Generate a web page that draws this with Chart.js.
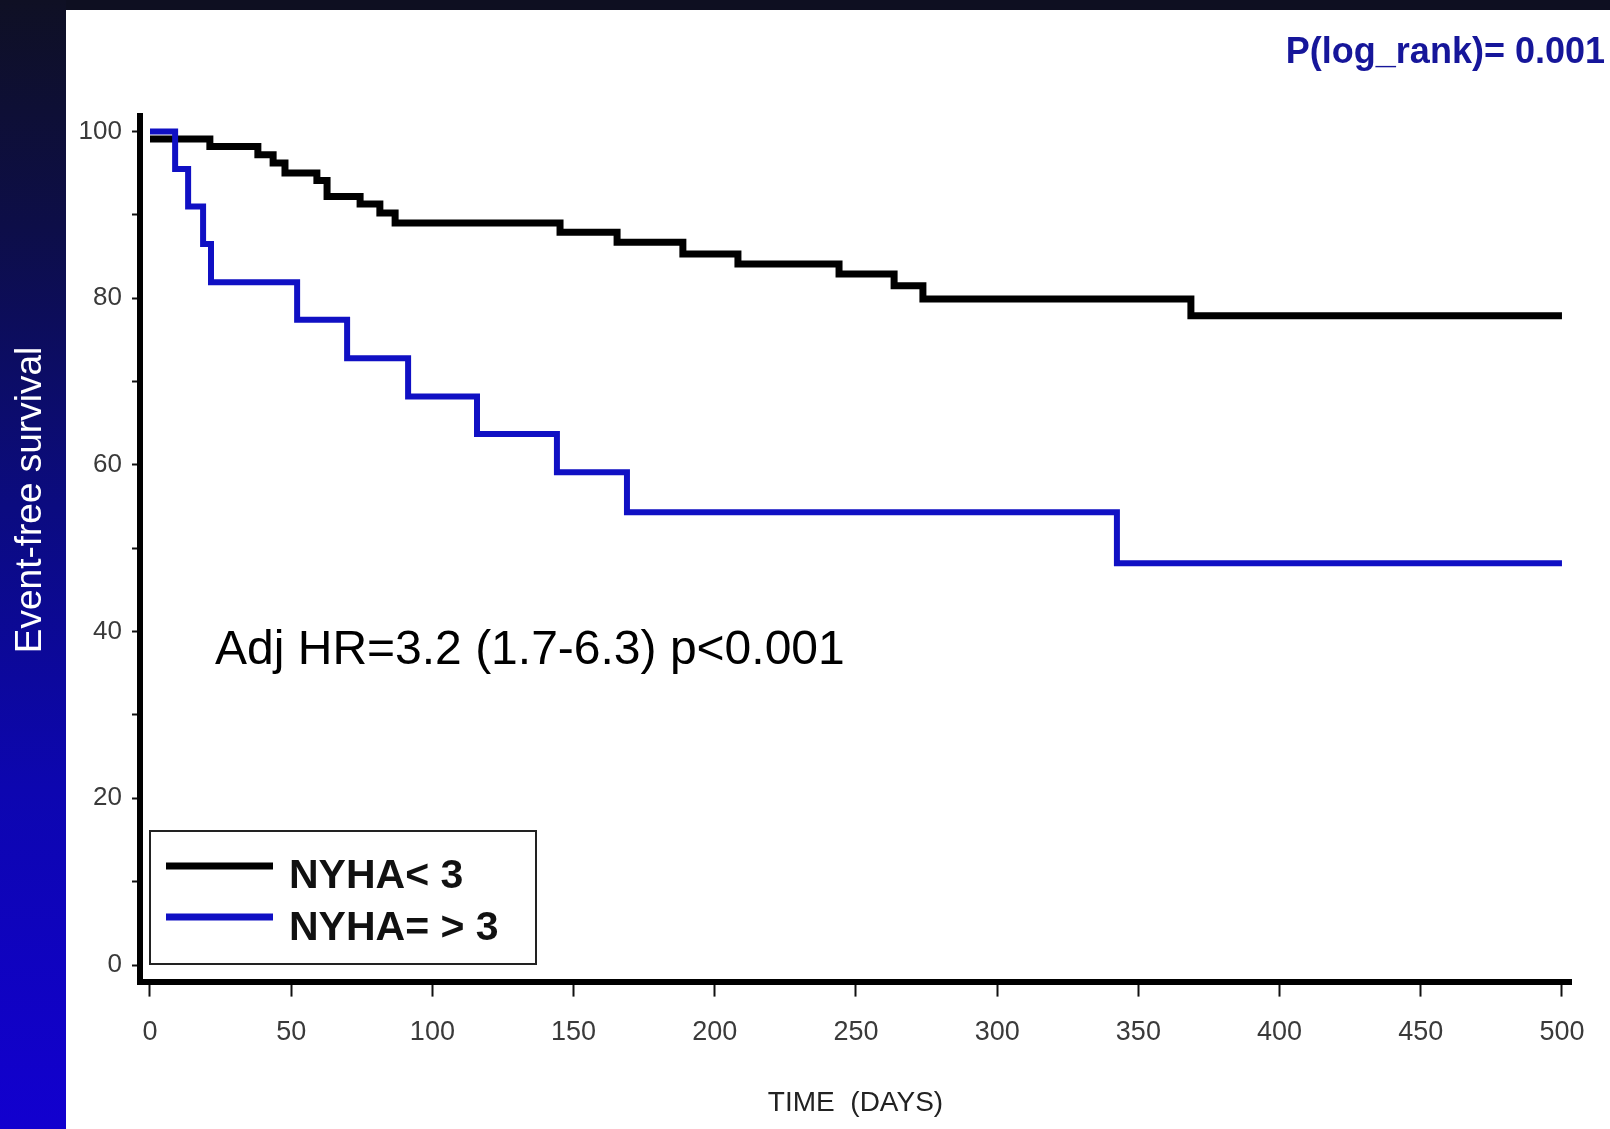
<!DOCTYPE html>
<html>
<head>
<meta charset="utf-8">
<title>Event-free survival</title>
<script src="https://cdn.jsdelivr.net/npm/chart.js@4.4.0/dist/chart.umd.min.js"></script>
<style>
    html, body { margin: 0; padding: 0; }
    body { width: 1610px; height: 1129px; position: relative; overflow: hidden; background: #0e0f21; }
    .faixaEsquerda {
        position: absolute; left: 0; top: 0; width: 66px; height: 1129px;
        background: linear-gradient(180deg, #0f1024 0%, #0d0e48 20%, #0b0b80 45%, #0d06b0 70%, #1200cf 100%);
    }
    .painel { position: absolute; left: 66px; top: 10px; width: 1544px; height: 1119px; background: #ffffff; }
    #graficoSobrevida { position: absolute; left: 0; top: 0; }
</style>
</head>
<body>
<div class="faixaEsquerda"></div>
<div class="painel"></div>
<canvas id="graficoSobrevida" width="1610" height="1129"></canvas>

<script>
// Dados (Kaplan-Meier, sobrevida livre de eventos em %)
const diasNyhaMenor = [0, 21.2, 38.2, 43.6, 47.8, 59.1, 62.7, 74.4, 81.4, 86.8, 145.2, 165.4, 188.7, 208.2, 244.0, 263.5, 273.7, 368.6, 500];
const survNyhaMenor = [99.1, 98.2, 97.2, 96.2, 95.0, 94.1, 92.2, 91.3, 90.2, 89.0, 87.9, 86.7, 85.3, 84.1, 82.9, 81.5, 79.9, 77.9, 77.9];

const diasNyhaMaior = [0, 8.9, 13.5, 18.8, 21.6, 52.1, 69.8, 91.4, 115.8, 144.1, 168.9, 342.4, 500];
const survNyhaMaior = [100, 95.5, 91.0, 86.5, 81.9, 77.4, 72.8, 68.2, 63.7, 59.1, 54.3, 48.2, 48.2];

const xTicks = [0, 50, 100, 150, 200, 250, 300, 350, 400, 450, 500];
const yTicks = [0, 10, 20, 30, 40, 50, 60, 70, 80, 90, 100];
const yLabelStep = 20;

const legendas = ['NYHA< 3', 'NYHA= > 3'];
const corPreta = '#000000';
const corAzul = '#1010c4';

function pontos(dias, surv) {
    return dias.map((d, i) => ({ x: d, y: surv[i] }));
}

/* Textos do slide + legenda com moldura */
const textosSlide = {
    id: 'textosSlide',
    afterDraw(chart) {
        const ctx = chart.ctx;
        ctx.save();

        // titulo do eixo y (na faixa azul)
        ctx.save();
        ctx.translate(41, 500);
        ctx.rotate(-Math.PI / 2);
        ctx.fillStyle = '#ffffff';
        ctx.font = '37px "Liberation Sans", Arial, sans-serif';
        ctx.textAlign = 'center';
        ctx.textBaseline = 'alphabetic';
        ctx.fillText('Event-free survival', 0, 0);
        ctx.restore();

        // p do log-rank
        ctx.fillStyle = '#16169a';
        ctx.font = 'bold 36px "Liberation Sans", Arial, sans-serif';
        ctx.textAlign = 'right';
        ctx.textBaseline = 'alphabetic';
        ctx.fillText('P(log_rank)= 0.001', 1605, 63);

        // HR ajustado
        ctx.fillStyle = '#000000';
        ctx.font = '48px "Liberation Sans", Arial, sans-serif';
        ctx.textAlign = 'left';
        ctx.fillText('Adj HR=3.2 (1.7-6.3) p<0.001', 215, 664);

        // legenda
        ctx.strokeStyle = '#222222';
        ctx.lineWidth = 2;
        ctx.strokeRect(150, 831, 386, 133);

        const linhasY = [866, 917];
        const textoY = [888, 940];
        chart.data.datasets.forEach((ds, i) => {
            ctx.strokeStyle = ds.borderColor;
            ctx.lineWidth = 7;
            ctx.beginPath();
            ctx.moveTo(166, linhasY[i]);
            ctx.lineTo(273, linhasY[i]);
            ctx.stroke();

            ctx.fillStyle = '#111111';
            ctx.font = 'bold 41px "Liberation Sans", Arial, sans-serif';
            ctx.fillText(ds.label, 289, textoY[i]);
        });

        ctx.restore();
    }
};

const ctx = document.getElementById('graficoSobrevida').getContext('2d');
const graficoSobrevida = new Chart(ctx, {
    type: 'line',
    data: {
        datasets: [{
            label: legendas[0],
            data: pontos(diasNyhaMenor, survNyhaMenor),
            borderColor: corPreta,
            borderWidth: 7,
            stepped: true,
            pointRadius: 0,
            fill: false,
            order: 2
        }, {
            label: legendas[1],
            data: pontos(diasNyhaMaior, survNyhaMaior),
            borderColor: corAzul,
            borderWidth: 6,
            stepped: true,
            pointRadius: 0,
            fill: false,
            order: 1
        }]
    },
    options: {
        responsive: false,
        animation: false,
        devicePixelRatio: 1,
        layout: { padding: { left: 0, right: 39, top: 116, bottom: 0 } },
        plugins: {
            legend: { display: false },
            tooltip: { enabled: false }
        },
        scales: {
            x: {
                type: 'linear',
                min: -3.54,
                max: 503.2,
                afterBuildTicks: (s) => { s.ticks = xTicks.map(v => ({ value: v })); },
                afterFit: (s) => { s.height = 147.4; },
                grid: { display: true, drawOnChartArea: false, drawTicks: true, tickLength: 15, tickColor: '#111111', tickWidth: 2 },
                border: { display: true, color: '#000000', width: 6 },
                ticks: {
                    autoSkip: false,
                    maxRotation: 0,
                    padding: 20,
                    color: '#3a3a3a',
                    font: { family: '"Liberation Sans", Arial, sans-serif', size: 27 }
                },
                title: {
                    display: true,
                    text: 'TIME  (DAYS)',
                    color: '#222222',
                    font: { family: '"Liberation Sans", Arial, sans-serif', size: 28 },
                    padding: { top: 0, bottom: 9 }
                }
            },
            y: {
                type: 'linear',
                min: -1.99,
                max: 101.85,
                afterBuildTicks: (s) => { s.ticks = yTicks.map(v => ({ value: v })); },
                afterFit: (s) => { s.width = 140; },
                grid: { display: true, drawOnChartArea: false, drawTicks: true, tickLength: 8, tickColor: '#111111', tickWidth: 2 },
                border: { display: true, color: '#000000', width: 6 },
                ticks: {
                    autoSkip: false,
                    padding: 10,
                    color: '#3a3a3a',
                    font: { family: '"Liberation Sans", Arial, sans-serif', size: 26 },
                    callback: (v) => (v % yLabelStep === 0 ? v : '')
                }
            }
        }
    },
    plugins: [textosSlide]
});
</script>
</body>
</html>
